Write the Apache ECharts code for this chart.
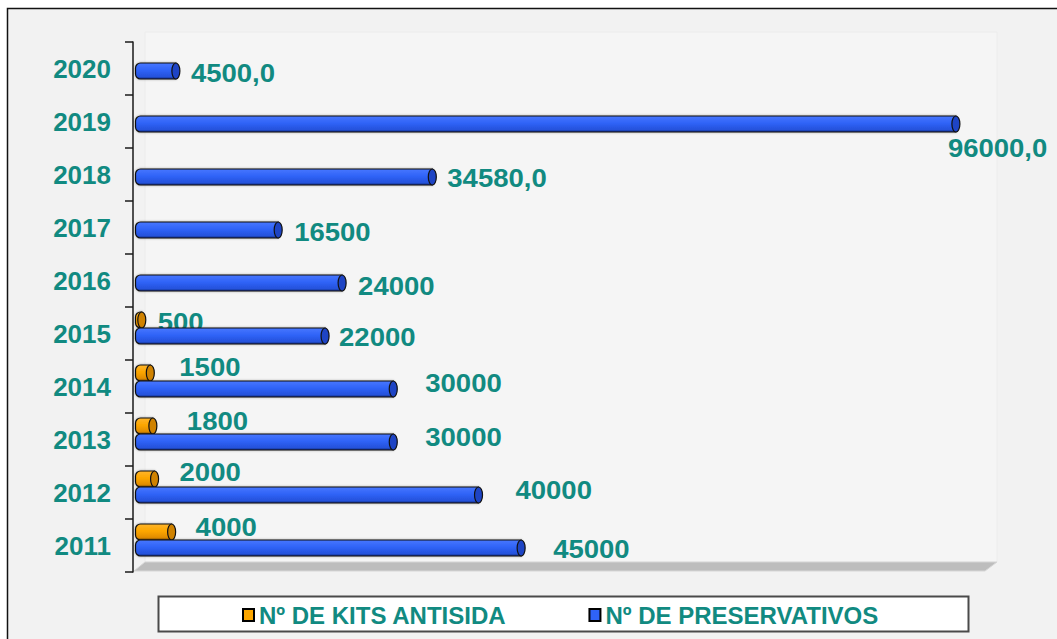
<!DOCTYPE html>
<html>
<head>
<meta charset="utf-8">
<script src="https://cdn.jsdelivr.net/npm/echarts@6/dist/echarts.min.js"></script>
<style>
  html, body { margin: 0; padding: 0; background: #ffffff; }
  #chart { width: 1057px; height: 639px; }
</style>
</head>
<body>
<div id="chart"></div>
<script>
// Years (bottom to top) and yearly quantities distributed
const years = ['2011', '2012', '2013', '2014', '2015', '2016', '2017', '2018', '2019', '2020'];
const kitsAntisida = [4000, 2000, 1800, 1500, 500, null, null, null, null, null];
const preservativos = [45000, 40000, 30000, 30000, 22000, 24000, 16500, 34580, 96000, 4500];
// Number of decimals shown on each condom label (the last three years use one decimal)
const preservDecimals = [0, 0, 0, 0, 0, 0, 0, 1, 1, 1];
const seriesNames = ['Nº DE KITS ANTISIDA', 'Nº DE PRESERVATIVOS'];

// Label placement relative to the bar tip: [dx, dy]
const kitsLabelShift = [[20, -5], [21, -6.5], [30, -5], [25, -6], [12, 2.5]];
const presLabelShift = [[28, 1], [33, -5], [28, -5], [28, -6], [10, 1.5], [12, 3], [12, 2], [11, 1.5], [-12, 24], [11, 2.5]];

const TEAL = '#118a81';
const FONT = '"Liberation Sans", Arial, sans-serif';

function fmt(v, dec) {
  return dec ? v.toFixed(dec).replace('.', ',') : String(v);
}

// Tube styles: body gradient and darker end cap
const tubeStyles = {
  kits: {
    stops: [[0, '#ffb52a'], [0.45, '#fca600'], [0.85, '#e08c00'], [1, '#8f5800']],
    cap: '#cf8200',
    top: -21.5, bottom: -5.5
  },
  pres: {
    stops: [[0, '#4777ff'], [0.45, '#2f63f7'], [0.85, '#2552dc'], [1, '#152d85']],
    cap: '#1e44c4',
    top: -5.5, bottom: 10.5
  }
};

function makeRender(kind, shifts, labelText) {
  const st = tubeStyles[kind];
  return function (params, api) {
    const v = api.value(0);
    if (v == null || isNaN(v)) return null;
    const idx = api.value(1);
    const tip = api.coord([v, idx]);
    const zero = api.coord([0, idx]);
    const band = api.size([0, 1])[1];
    const k = band / 53;
    const yTop = tip[1] + st.top * k;
    const yBot = tip[1] + st.bottom * k;
    const h = yBot - yTop;
    const x0 = zero[0] - 6;
    const capRx = 4;
    const xCap = tip[0] - capRx;
    const grad = new echarts.graphic.LinearGradient(0, 0, 0, 1,
      st.stops.map(s => ({ offset: s[0], color: s[1] })));
    const shift = shifts[params.dataIndex] || [12, 0];
    return {
      type: 'group',
      children: [
        {
          type: 'rect',
          shape: { x: x0, y: yTop, width: Math.max(xCap - x0, 1), height: h, r: [5, 0, 0, 5] },
          style: { fill: grad, stroke: '#111', lineWidth: 1.2, shadowBlur: 2, shadowColor: 'rgba(0,0,0,0.35)' }
        },
        {
          type: 'ellipse',
          shape: { cx: xCap, cy: yTop + h / 2, rx: capRx, ry: h / 2 },
          style: { fill: st.cap, stroke: '#111', lineWidth: 1.2 }
        },
        {
          type: 'text',
          x: tip[0] + shift[0],
          y: yTop + h / 2 + shift[1],
          scaleX: 1.1,
          style: {
            x: 0,
            y: 0,
            text: labelText(v, params.dataIndex),
            fill: TEAL,
            font: 'bold 25px ' + FONT,
            verticalAlign: 'middle',
            align: 'left'
          }
        }
      ]
    };
  };
}

const kitsData = kitsAntisida.map((v, i) => v == null ? [NaN, i] : [v, i]);
const presData = preservativos.map((v, i) => [v, i]);

const chart = echarts.init(document.getElementById('chart'), null, { renderer: 'svg' });

chart.setOption({
  backgroundColor: '#ffffff',
  animation: false,
  graphic: [
    // chart frame
    { type: 'rect', z: -20, shape: { x: 7.5, y: 8.5, width: 1100, height: 700 },
      style: { fill: '#f2f2f2', stroke: '#111', lineWidth: 1.5 } },
    // back wall
    { type: 'rect', z: -19, shape: { x: 145, y: 32, width: 852, height: 530 },
      style: { fill: '#f5f5f5', stroke: '#ececec', lineWidth: 1 } },
    // floor
    { type: 'polygon', z: -18, shape: { points: [[134, 571], [145, 562], [997, 562], [985, 571]] },
      style: { fill: '#bdbdbd', stroke: '#d6d6d6', lineWidth: 1 } },
    // legend box
    { type: 'rect', z: -5, shape: { x: 158.5, y: 596.5, width: 810, height: 35 },
      style: { fill: '#ffffff', stroke: '#4a4a4a', lineWidth: 2 } }
  ],
  // the value axis starts a little left of zero so the tubes' rounded ends clear the year axis
  grid: { left: 133, right: 63, top: 42, bottom: 67, containLabel: false },
  xAxis: {
    type: 'value', min: -1000, max: 100000, show: false
  },
  yAxis: {
    type: 'category',
    data: years,
    axisLine: { show: true, onZero: false, lineStyle: { color: '#1a1a1a', width: 1.5 } },
    axisTick: { show: true, length: 8, lineStyle: { color: '#1a1a1a', width: 1.5 } },
    axisLabel: { color: TEAL, fontWeight: 'bold', fontSize: 26, fontFamily: FONT, margin: 22 },
    splitLine: { show: false }
  },
  legend: {
    data: seriesNames,
    left: 242, top: 603,
    padding: 0,
    itemWidth: 11, itemHeight: 12, itemGap: 82,
    icon: 'rect',
    itemStyle: { borderColor: '#000', borderWidth: 2 },
    textStyle: { color: TEAL, fontWeight: 'bold', fontSize: 24, fontFamily: FONT }
  },
  series: [
    {
      name: seriesNames[0],
      type: 'custom',
      itemStyle: { color: '#fca600' },
      encode: { x: 0, y: 1 },
      data: kitsData,
      renderItem: makeRender('kits', kitsLabelShift, (v) => fmt(v, 0))
    },
    {
      name: seriesNames[1],
      type: 'custom',
      itemStyle: { color: '#2f63f7' },
      encode: { x: 0, y: 1 },
      data: presData,
      renderItem: makeRender('pres', presLabelShift, (v, i) => fmt(v, preservDecimals[i]))
    }
  ]
});
</script>
</body>
</html>
